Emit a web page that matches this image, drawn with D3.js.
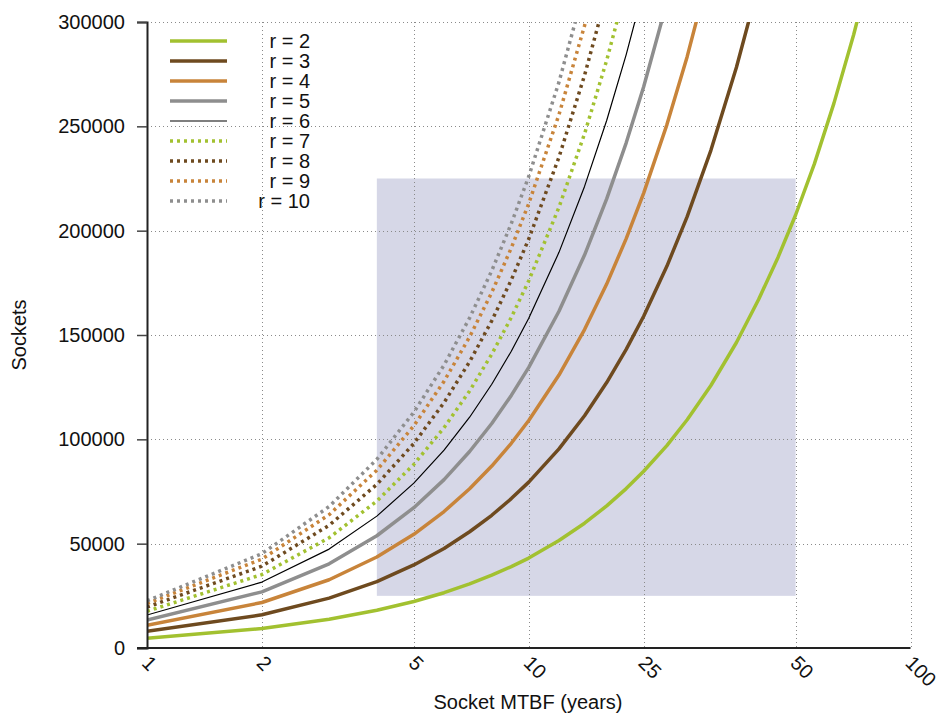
<!DOCTYPE html>
<html>
<head>
<meta charset="utf-8">
<script src="https://cdn.jsdelivr.net/npm/d3@7/dist/d3.min.js"></script>
<style>
  html, body { margin: 0; padding: 0; background: #fff; }
  svg { display: block; }
  text { font-family: "Liberation Sans", Arial, Helvetica, sans-serif; fill: #111; }
</style>
</head>
<body>
<svg id="chart" width="940" height="713"></svg>
<script>
// ---- data ----
const mtbf = [1,2,3,4,5,6,7,8,9,10,12,14,16,18,20,23,26,30,35,40,45,50,56,63,71,80];
const r2  = [4700,9300,13800,18100,22300,26500,30700,34900,39000,43100,51500,59800,68100,76400,84700,97000,109400,125800,146400,167000,187300,207500,232000,261000,294000,331000];
const r3  = [8000,15900,23900,31800,39800,47700,55700,63600,71600,79500,95400,111300,127200,143100,159000,182900,206700,238500,278300,318000];
const r4  = [10900,21800,32700,43600,54500,65400,76300,87200,98100,109000,130800,152600,174400,196200,218000,250700,283400,327000];
const r5  = [13450,26900,40350,53800,67250,80700,94150,107600,121050,134500,161400,188300,215200,242100,269000,309350];
const r6  = [15800,31600,47400,63200,79000,94800,110600,126400,142200,158000,189600,221200,252800,284400,316000];
const r7  = [17600,35200,52800,70400,88000,105600,123200,140800,158400,176000,211200,246400,281600,316800];
const r8  = [19600,39200,58800,78400,98000,117600,137200,156800,176400,196000,235200,274400,313600];
const r9  = [21300,42600,63900,85200,106500,127800,149100,170400,191700,213000,255600,298200,340800];
const r10 = [22600,45200,67800,90400,113000,135600,158200,180800,203400,226000,271200,316400];

const seriesNames = ["r = 2","r = 3","r = 4","r = 5","r = 6","r = 7","r = 8","r = 9","r = 10"];
const seriesValues = [r2, r3, r4, r5, r6, r7, r8, r9, r10];

const xTickValues = [1, 2, 5, 10, 20, 50, 100];
const xTickLabels = ["1", "2", "5", "10", "25", "50", "100"];
const yTickValues = [0, 50000, 100000, 150000, 200000, 250000, 300000];

// shaded region (MTBF 4..50, sockets 25000..225000)
const regionX = [4, 50];
const regionY = [25000, 225000];

// ---- styles ----
const colors = ["#a2c130","#6e4a1f","#c8843a","#8e8e8e","#000000","#a2c130","#6e4a1f","#c8843a","#8e8e8e"];
const widths = [3.5,3.5,3.5,3.5,1.2,3.5,3.5,3.5,3.5];
const dashes = [null,null,null,null,null,"3,4","3,4","3,4","3,4"];
const FS = "20px";

// ---- layout ----
const svg = d3.select("#chart");
const L = 147, R = 910.5, T = 22, B = 648;

const x = d3.scaleLog().domain([1, 100]).range([L, R]);
const y = d3.scaleLinear().domain([0, 300000]).range([B, T]);

// shaded region
svg.append("rect")
  .attr("x", x(regionX[0])).attr("y", y(regionY[1]))
  .attr("width", x(regionX[1]) - x(regionX[0]))
  .attr("height", y(regionY[0]) - y(regionY[1]))
  .attr("fill", "#d6d7e7");

// grid
const grid = svg.append("g").attr("stroke", "#8a8a8a").attr("stroke-width", 1).attr("stroke-dasharray", "1,3");
grid.selectAll("line.h").data(yTickValues.filter(d => d > 0)).join("line")
  .attr("x1", L).attr("x2", R)
  .attr("y1", d => Math.round(y(d)) + 0.5).attr("y2", d => Math.round(y(d)) + 0.5);
grid.selectAll("line.v").data(xTickValues.filter(d => d > 1)).join("line")
  .attr("x1", d => Math.round(x(d)) + 0.5).attr("x2", d => Math.round(x(d)) + 0.5)
  .attr("y1", T).attr("y2", B);

// clip
svg.append("clipPath").attr("id", "plotclip")
  .append("rect").attr("x", L).attr("y", T).attr("width", R - L).attr("height", B - T);

const line = d3.line().x(d => x(d[0])).y(d => y(d[1]));
const plot = svg.append("g").attr("clip-path", "url(#plotclip)");
seriesValues.forEach((vals, i) => {
  const pts = vals.map((v, j) => [mtbf[j], v]);
  plot.append("path")
    .attr("d", line(pts))
    .attr("fill", "none")
    .attr("stroke", colors[i])
    .attr("stroke-width", widths[i])
    .attr("stroke-linejoin", "round")
    .attr("stroke-dasharray", dashes[i]);
});

// y axis
const yAxis = d3.axisLeft(y).tickValues(yTickValues).tickSize(10).tickPadding(12).tickFormat(d3.format("d"));
const gy = svg.append("g").attr("transform", `translate(${L},0)`).call(yAxis);
gy.select(".domain").attr("stroke", "#222").attr("stroke-width", 2);
gy.selectAll(".tick line").attr("stroke", "#444").attr("stroke-width", 1.5);
gy.selectAll(".tick text").style("font-size", FS).attr("fill", "#111");

// x axis line
svg.append("line").attr("x1", L - 10).attr("x2", R).attr("y1", B).attr("y2", B)
  .attr("stroke", "#222").attr("stroke-width", 2);

// x tick labels (rotated)
svg.append("g").selectAll("text").data(xTickValues).join("text")
  .attr("transform", d => `translate(${x(d) + 5},${B + 5}) rotate(45)`)
  .attr("text-anchor", "start")
  .attr("dy", "0.8em")
  .style("font-size", FS)
  .text((d, i) => xTickLabels[i]);

// axis titles
svg.append("text").attr("x", 528).attr("y", 709).attr("text-anchor", "middle")
  .style("font-size", FS).text("Socket MTBF (years)");
svg.append("text").attr("transform", "translate(26,335) rotate(-90)").attr("text-anchor", "middle")
  .style("font-size", FS).text("Sockets");

// legend
const lg = svg.append("g");
seriesNames.forEach((name, i) => {
  const yy = 41 + i * 20;
  lg.append("line").attr("x1", 170).attr("x2", 227).attr("y1", yy).attr("y2", yy)
    .attr("stroke", colors[i]).attr("stroke-width", widths[i]).attr("stroke-dasharray", dashes[i]);
  lg.append("text").attr("x", 310).attr("y", yy).attr("dy", "0.35em").attr("text-anchor", "end")
    .style("font-size", FS).text(name);
});
</script>
</body>
</html>
